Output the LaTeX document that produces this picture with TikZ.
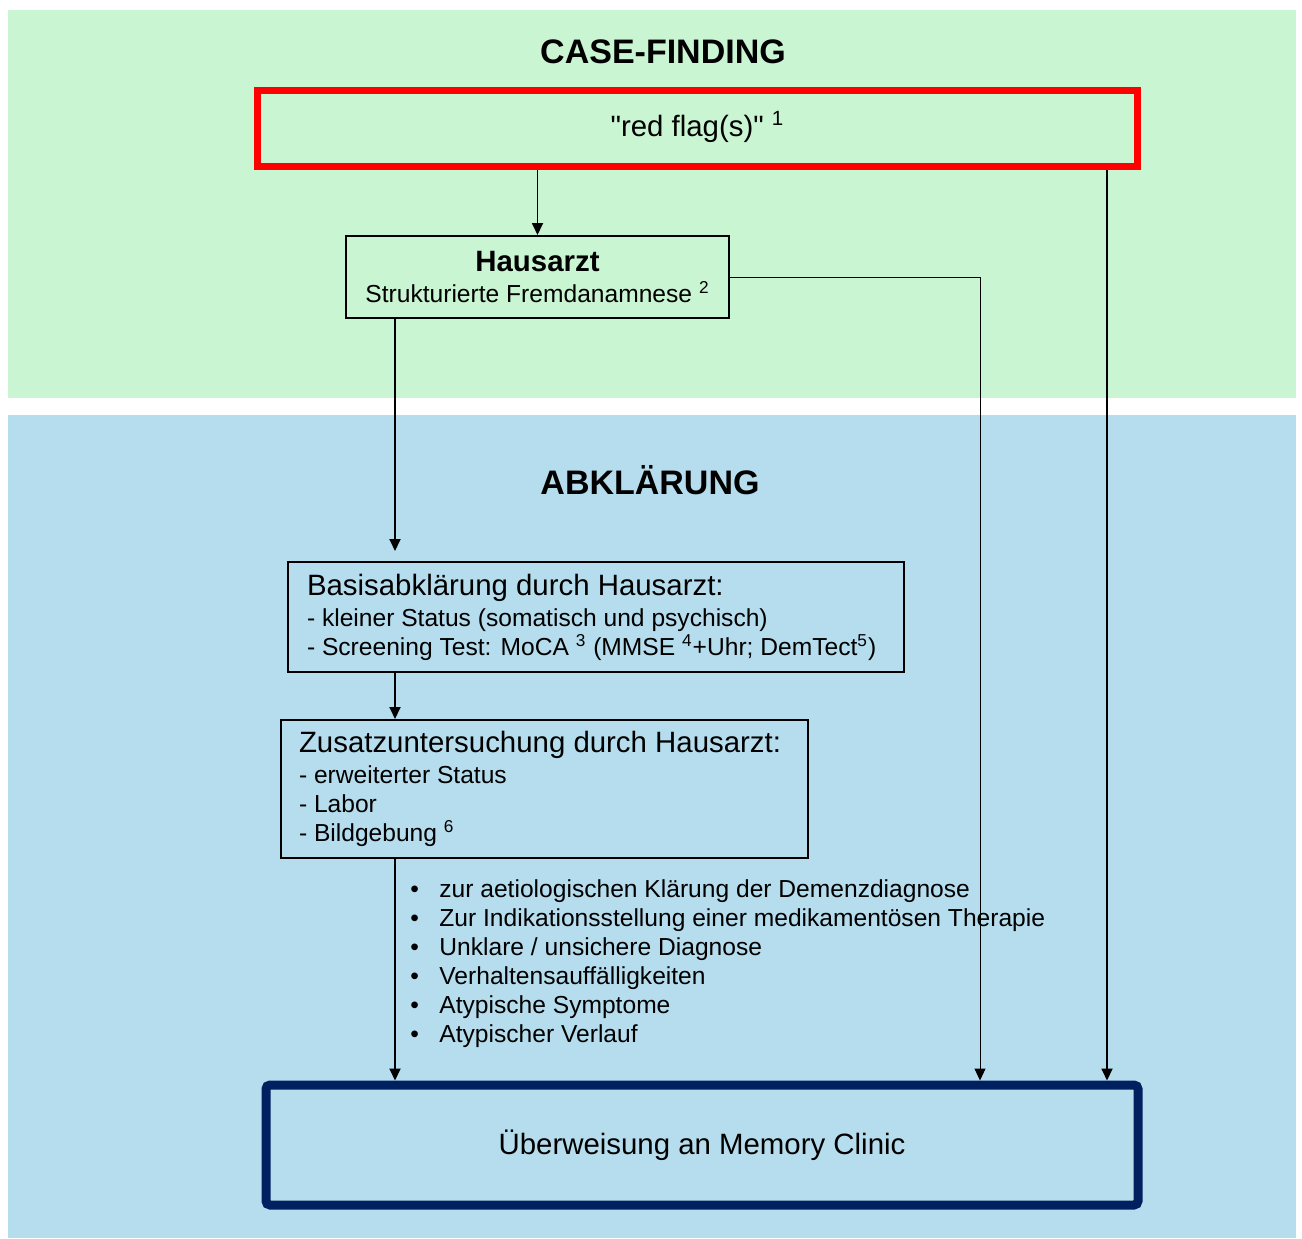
\documentclass[tikz,border=0pt]{standalone}
\usepackage{fontspec}
\setmainfont{Liberation Sans}[Ligatures=TeXOff]
\usepackage{xcolor}
\usepackage{tikz}
\usetikzlibrary{arrows.meta, positioning}
\definecolor{caseGreen}{RGB}{201,245,211}
\definecolor{abklBlue}{RGB}{181,221,237}
\definecolor{clinicNavy}{RGB}{0,32,96}
\newcommand{\bigTxt}{\fontsize{14.7pt}{15.5pt}\selectfont}
\newcommand{\smallTxt}{\fontsize{12.3pt}{14.5pt}\selectfont}
\newcommand{\noteMark}[1]{\smash{\textsuperscript{#1}}}
\tikzset{
    phase/.style={font=\fontsize{17pt}{20pt}\selectfont\bfseries},
    flagBox/.style={rectangle, draw=red, line width=3.5pt, minimum width=440pt, minimum height=38pt, align=center, font=\bigTxt},
    docBox/.style={rectangle, draw=black, line width=1pt, align=flush left, font=\smallTxt},
    clinicBox/.style={rectangle, draw=clinicNavy, line width=4.5pt, rounded corners=2pt, minimum width=436pt, minimum height=60pt, font=\bigTxt},
    arrow/.style={-{Triangle[length=6pt,width=5.5pt]}, line width=0.9pt},
    thinArrow/.style={-{Triangle[length=6pt,width=5.5pt]}, line width=0.5pt},
    itemList/.style={align=left, inner sep=0pt, font=\smallTxt}
}

\begin{document}
\begin{tikzpicture}[x=0.5pt, y=-0.5pt]
    % Backgrounds
    \useasboundingbox (0,0) rectangle (1302,1238);
    \fill[caseGreen] (8,10) rectangle (1296,398);
    \fill[abklBlue] (8,415) rectangle (1296,1238);

    % Phase titles
    \node[phase] (caseTitle) at (663,52) {CASE-FINDING};
    \node[phase] (abklTitle) at (650,480) {ABKLÄRUNG};

    % Boxes
    \node[flagBox] (flag) at (697.5,128.5) {"red flag(s)" \noteMark{1}};
    \node[docBox, align=center, minimum width=191.5pt, minimum height=41pt] (haus) at (537.5,277)
        {{\bigTxt\bfseries Hausarzt}\\[1pt]Strukturierte Fremdanamnese \noteMark{2}};
    \node[docBox, inner xsep=9.5pt, text width=289pt, minimum height=55pt] (basis) at (596,617)
        {{\bigTxt Basisabklärung durch Hausarzt:}\\[1pt]
         - kleiner Status (somatisch und psychisch)\\
         - Screening Test: MoCA \noteMark{3} (MMSE \noteMark{4}+Uhr; DemTect\noteMark{5})};
    \node[docBox, inner xsep=9pt, text width=245.5pt, minimum height=69pt] (zusatz) at (544.5,789)
        {{\bigTxt Zusatzuntersuchung durch Hausarzt:}\\[1pt]
         - erweiterter Status\\
         - Labor\\
         - Bildgebung \noteMark{6}};
    \node[itemList, anchor=north west] (reasons) at (410,879)
        {\makebox[14.5pt][l]{•}zur aetiologischen Klärung der Demenzdiagnose\\
         \makebox[14.5pt][l]{•}Zur Indikationsstellung einer medikamentösen Therapie\\
         \makebox[14.5pt][l]{•}Unklare / unsichere Diagnose\\
         \makebox[14.5pt][l]{•}Verhaltensauffälligkeiten\\
         \makebox[14.5pt][l]{•}Atypische Symptome\\
         \makebox[14.5pt][l]{•}Atypischer Verlauf};
    \node[clinicBox] (clinic) at (702,1145) {Überweisung an Memory Clinic};

    % Connectors
    \coordinate (leftx) at (395,0);
    \coordinate (midx) at (980,0);
    \coordinate (rightx) at (1107,0);
    \draw[arrow] (flag.south -| haus.north) -- (haus.north);
    \draw[arrow] (flag.south -| rightx) -- (clinic.north -| rightx);
    \draw[thinArrow] (haus.east) -| (clinic.north -| midx);
    \draw[arrow, shorten >=5pt] (haus.south -| leftx) -- (basis.north -| leftx);
    \draw[arrow] (basis.south -| leftx) -- (zusatz.north -| leftx);
    \draw[arrow] (zusatz.south -| leftx) -- (clinic.north -| leftx);
\end{tikzpicture}
\end{document}
